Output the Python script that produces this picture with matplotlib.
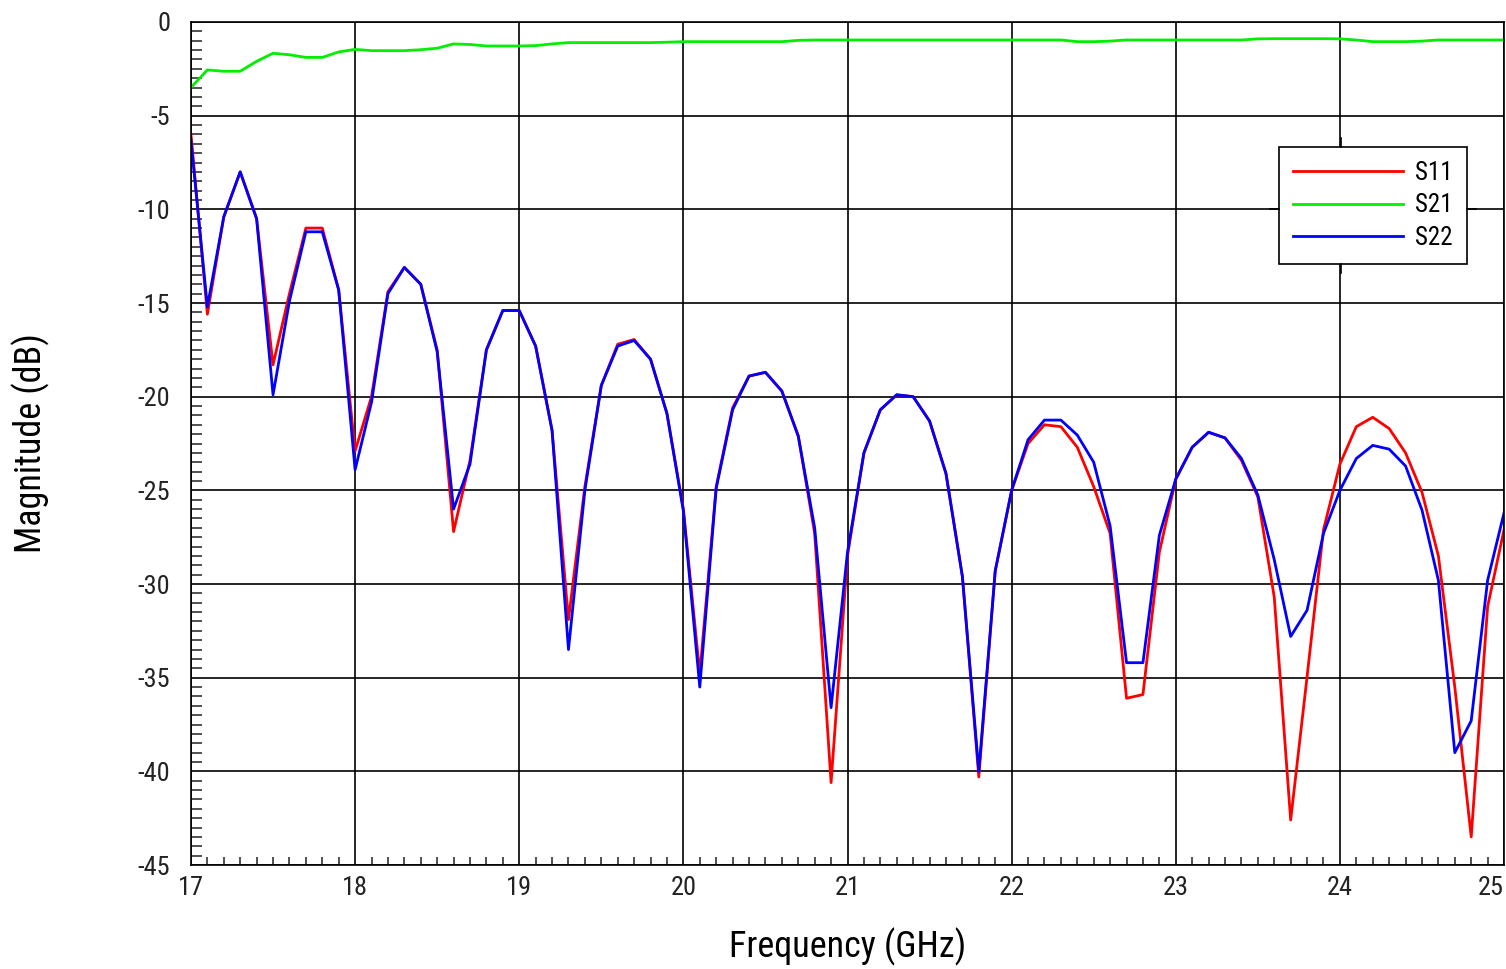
import matplotlib
matplotlib.use('Agg')
import matplotlib.pyplot as plt
from matplotlib.lines import Line2D
from matplotlib.ticker import MultipleLocator
import numpy as np

plt.rcParams['font.family'] = ['Liberation Sans Narrow', 'DejaVu Sans Condensed',
                               'Roboto Condensed', 'DejaVu Sans']
plt.rcParams['font.stretch'] = 'condensed'
plt.rcParams['axes.unicode_minus'] = False

# sweep 17..25 GHz, 0.1 GHz step
freq = np.linspace(17.0, 25.0, 81)

s11 = [-6.0, -15.6, -10.4, -8.0, -10.5, -18.3, -14.5, -11.0, -11.0, -14.3,
       -22.9, -20.0, -14.4, -13.1, -14.0, -17.5, -27.2, -23.4, -17.5, -15.4,
       -15.4, -17.3, -21.8, -31.9, -24.8, -19.4, -17.2, -16.95, -18.0, -20.9,
       -26.0, -34.8, -24.8, -20.6, -18.9, -18.7, -19.7, -22.1, -27.3, -40.6,
       -28.5, -23.0, -20.7, -19.9, -20.0, -21.3, -24.1, -29.6, -40.3, -29.3,
       -25.0, -22.5, -21.5, -21.6, -22.7, -24.8, -27.3, -36.1, -35.9, -28.3,
       -24.4, -22.7, -21.9, -22.2, -23.4, -25.35, -30.7, -42.6, -34.95, -27.1,
       -23.6, -21.6, -21.1, -21.7, -23.0, -25.1, -28.5, -35.5, -43.5, -31.2,
       -27.1]

s21 = [-3.5, -2.56, -2.63, -2.63, -2.1, -1.67, -1.75, -1.89, -1.89, -1.6,
       -1.46, -1.53, -1.53, -1.53, -1.48, -1.4, -1.17, -1.2, -1.28, -1.28,
       -1.28, -1.26, -1.17, -1.1, -1.1, -1.1, -1.1, -1.1, -1.1, -1.08,
       -1.05, -1.05, -1.05, -1.05, -1.05, -1.05, -1.05, -0.98, -0.96, -0.96,
       -0.96, -0.96, -0.96, -0.96, -0.96, -0.96, -0.96, -0.96, -0.96, -0.96,
       -0.96, -0.96, -0.96, -0.96, -1.05, -1.05, -1.02, -0.96, -0.96, -0.96,
       -0.96, -0.96, -0.96, -0.96, -0.96, -0.9, -0.89, -0.89, -0.89, -0.89,
       -0.9, -0.96, -1.05, -1.05, -1.05, -1.02, -0.96, -0.96, -0.96, -0.96,
       -0.96]

s22 = [-6.3, -15.2, -10.4, -8.0, -10.5, -19.9, -14.9, -11.2, -11.2, -14.3,
       -23.9, -20.3, -14.5, -13.1, -14.0, -17.6, -26.0, -23.6, -17.5, -15.4,
       -15.4, -17.3, -21.8, -33.5, -25.0, -19.4, -17.3, -17.0, -18.0, -20.9,
       -26.1, -35.5, -24.9, -20.7, -18.9, -18.7, -19.7, -22.1, -27.0, -36.6,
       -28.3, -23.0, -20.7, -19.9, -20.0, -21.3, -24.1, -29.6, -40.0, -29.3,
       -25.0, -22.3, -21.25, -21.25, -22.05, -23.5, -26.9, -34.2, -34.2, -27.4,
       -24.4, -22.7, -21.9, -22.2, -23.3, -25.25, -28.7, -32.8, -31.4, -27.3,
       -25.0, -23.3, -22.6, -22.8, -23.7, -26.05, -29.8, -39.0, -37.3, -29.8,
       -26.2]

fig = plt.figure(figsize=(15.06, 9.69), dpi=100)
ax = fig.add_axes([0.1268, 0.1073, 0.8719, 0.8700])

ax.plot(freq, s11, color='#ff0000', lw=2.0, label='S11')
ax.plot(freq, s21, color='#00ee00', lw=2.0, label='S21')
ax.plot(freq, s22, color='#0000ff', lw=2.0, label='S22')

ax.set_xlim(17, 25)
ax.set_ylim(-45, 0)
ax.xaxis.set_major_locator(MultipleLocator(1))
ax.xaxis.set_minor_locator(MultipleLocator(0.1))
ax.yaxis.set_major_locator(MultipleLocator(5))
ax.yaxis.set_minor_locator(MultipleLocator(0.5))
ax.grid(True, which='major', color='black', lw=1.2)
ax.tick_params(which='major', length=0, labelsize=19, colors='#222222')
ax.tick_params(axis='y', which='major', pad=15)
ax.tick_params(axis='x', which='major', pad=8)
ax.tick_params(which='minor', direction='in', length=8, width=1.1, color='#222222')
ax.tick_params(axis='x', which='minor', length=6)
ax.tick_params(top=False, right=False, which='both')
ax.set_xticks(range(17, 26))
ax.set_xticklabels([str(v) for v in range(17, 26)])
ax.get_xticklabels()[-1].set_horizontalalignment('right')
ax.set_yticks(range(-45, 1, 5))
ax.set_yticklabels([str(v) for v in range(-45, 1, 5)])
for s in ax.spines.values():
    s.set_linewidth(1.2)

ax.set_xlabel('Frequency (GHz)', fontsize=26, labelpad=20)
ax.set_ylabel('Magnitude (dB)', fontsize=26)
ax.yaxis.set_label_coords(-0.107, 0.5)

leg = ax.legend(loc='upper right', bbox_to_anchor=(0.9715, 0.852), fontsize=18,
                handlelength=4.4, handletextpad=0.5, labelspacing=0.35,
                fancybox=False, framealpha=1, edgecolor='black',
                borderpad=0.55, borderaxespad=0)
leg.get_frame().set_linewidth(1.2)

# little marks sticking out of the legend box
fig.canvas.draw()
bb = leg.get_window_extent().transformed(fig.transFigure.inverted())
dx, dy = 9 / 1506, 9 / 969
xm = bb.x0 + 0.33 * bb.width
ym = (bb.y0 + bb.y1) / 2 - 0.03 * bb.height
for xs, ys in [([bb.x0 - dx, bb.x0], [ym, ym]), ([bb.x1, bb.x1 + dx], [ym, ym]),
               ([xm, xm], [bb.y1, bb.y1 + dy]), ([xm, xm], [bb.y0 - dy, bb.y0])]:
    fig.add_artist(Line2D(xs, ys, color='black', lw=1.2, transform=fig.transFigure))

fig.savefig('out.png', dpi=100)
